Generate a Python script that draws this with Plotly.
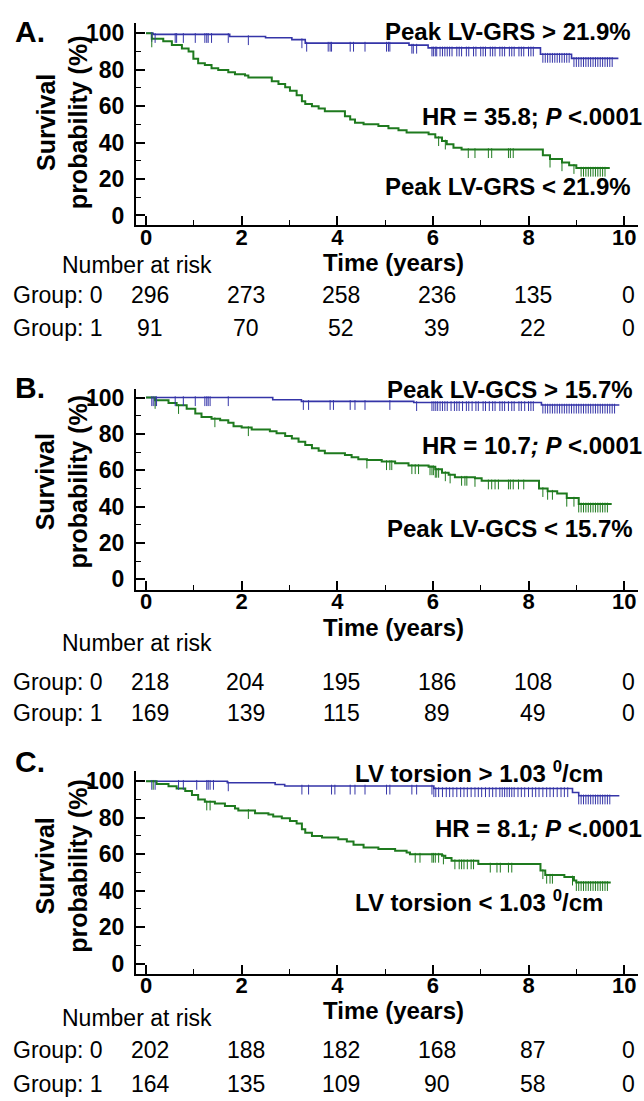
import plotly.graph_objects as go

W, H = 644, 1101
FONT = "Liberation Sans, Arial, sans-serif"
BLUE = "#3535a8"
GREEN = "#1e7a1e"

# ---------------- data ----------------
years = [0, 2, 4, 6, 8, 10]

# Panel A
A_blue_t = [0, 0.15, 1.75, 2.5, 3.05, 3.33, 5.5, 5.9, 8.25, 8.9, 9.88]
A_blue_s = [100, 99.4, 98.2, 97.5, 96.5, 94.6, 93.5, 92.0, 88.5, 86.2, 86.2]
A_green_t = [0, 0.12, 0.36, 0.54, 0.75, 0.89, 0.99, 1.09, 1.23, 1.37, 1.51, 1.72, 1.86, 2.07, 2.14,
             2.63, 2.77, 2.91, 3.01, 3.15, 3.26, 3.33, 3.47, 3.61, 3.74, 4.16, 4.27, 4.37, 4.55,
             4.86, 5.07, 5.28, 5.45, 5.91, 6.05, 6.19, 6.29, 6.43, 6.6, 8.3, 8.45, 8.7, 8.85, 9.0, 9.7]
A_green_s = [100, 97, 95.6, 93.5, 91.7, 90, 86, 83.5, 82.6, 80.8, 79.9, 78.6, 77.5, 76.8, 75.7,
             73.6, 72.1, 70.3, 68.5, 66, 62.7, 61.2, 60, 58.7, 57.2, 54.5, 52.7, 50.9, 50,
             49.1, 47.8, 46.7, 45.5, 44.6, 42.8, 40.9, 39.1, 37.2, 36.2, 33, 31, 29, 27.5, 26, 26]
A_blue_cens = [0.12, 0.19, 0.61, 0.64, 0.78, 1.03, 1.23, 1.27, 1.3, 1.37, 1.72, 2.14, 3.26, 3.36,
               3.81, 3.85, 3.88, 4.27, 4.34, 4.58, 5.03, 5.07, 5.1, 5.56, 5.59, 5.66, 5.98, 6.01,
               6.05, 6.08, 6.15, 6.2, 6.25, 6.3, 6.35, 6.4, 6.5, 6.55, 6.6, 6.7, 6.75, 6.85, 6.9,
               7.0, 7.05, 7.1, 7.2, 7.25, 7.3, 7.4, 7.45, 7.5, 7.6, 7.65, 7.7, 7.8, 7.85, 7.9, 8.0,
               8.05, 8.1, 8.3, 8.35, 8.4, 8.45, 8.5, 8.55, 8.6, 8.65, 8.7, 8.75, 8.8, 8.85, 8.95,
               9.0, 9.05, 9.1, 9.15, 9.2, 9.25, 9.3, 9.35, 9.4, 9.45, 9.5, 9.55, 9.6, 9.65, 9.7, 9.75]
A_green_cens = [0.12, 6.12, 6.26, 6.74, 6.88, 7.16, 7.23, 7.58, 7.62, 7.68, 8.45, 8.7, 8.95, 9.1,
                9.15, 9.2, 9.25, 9.3, 9.35, 9.4, 9.45, 9.5, 9.55, 9.6]
A_risk0 = [296, 273, 258, 236, 135, 0]
A_risk1 = [91, 70, 52, 39, 22, 0]

# Panel B
B_blue_t = [0, 2.65, 3.25, 5.6, 8.27, 9.9]
B_blue_s = [100, 98.8, 97.9, 97.3, 95.9, 95.9]
B_green_t = [0, 0.19, 0.47, 0.64, 0.85, 1.03, 1.16, 1.37, 1.55, 1.72, 1.83, 2.0, 2.21, 2.59, 2.73,
             2.91, 3.05, 3.19, 3.33, 3.47, 3.61, 3.74, 4.16, 4.3, 4.44, 4.62, 4.93, 5.21, 5.49, 5.91,
             6.05, 6.19, 6.33, 6.46, 6.88, 7.02, 8.22, 8.4, 8.6, 8.8, 9.05, 9.74]
B_green_s = [100, 98.5, 97, 95.7, 93.9, 91.2, 89.3, 88.4, 87.5, 86.1, 84.2, 83.5, 82.4, 81.5, 80.3,
             78.8, 77.5, 75.7, 73.9, 72.1, 70.8, 69.3, 68.4, 67.1, 66, 65.7, 64.8, 63.8, 62.6, 62,
             60.6, 58.7, 57.5, 56.2, 55.6, 54.2, 50, 48.5, 47.2, 44.7, 41.5, 41.5]
B_blue_cens = [0.12, 0.15, 0.19, 0.22, 0.61, 0.78, 1.03, 1.23, 1.27, 1.3, 1.34, 1.72, 3.29, 3.4,
               3.85, 3.92, 4.27, 4.37, 4.58, 5.1, 5.66, 5.98, 6.02, 6.06, 6.1, 6.15, 6.2, 6.25, 6.3,
               6.38, 6.45, 6.5, 6.55, 6.62, 6.7, 6.75, 6.82, 6.9, 6.95, 7.05, 7.1, 7.18, 7.25, 7.3,
               7.4, 7.45, 7.5, 7.58, 7.65, 7.7, 7.8, 7.85, 7.92, 8.0, 8.05, 8.1, 8.3, 8.35, 8.4,
               8.45, 8.5, 8.55, 8.6, 8.65, 8.7, 8.75, 8.8, 8.85, 8.9, 8.95, 9.0, 9.05, 9.1, 9.15,
               9.2, 9.25, 9.3, 9.35, 9.4, 9.45, 9.5, 9.55, 9.6, 9.65, 9.7, 9.75, 9.8]
B_green_cens = [0.19, 0.68, 1.44, 2.14, 4.62, 5.03, 5.1, 5.14, 5.56, 5.63, 5.7, 5.94, 5.98, 6.01,
                6.05, 6.08, 6.12, 6.26, 6.36, 6.6, 6.67, 6.71, 6.88, 7.16, 7.23, 7.3, 7.37, 7.58,
                7.62, 7.68, 7.79, 7.9, 8.3, 8.4, 8.5, 8.8, 8.95, 9.05, 9.1, 9.15, 9.2, 9.25, 9.3,
                9.35, 9.4, 9.45, 9.5, 9.55, 9.6, 9.65]
B_risk0 = [218, 204, 195, 186, 108, 0]
B_risk1 = [169, 139, 115, 89, 49, 0]

# Panel C
C_blue_t = [0, 1.7, 2.7, 2.9, 6.02, 8.92, 9.05, 9.9]
C_blue_s = [100, 99.2, 98.2, 97.4, 96, 93.8, 92, 92]
C_green_t = [0, 0.22, 0.47, 0.64, 0.82, 0.96, 1.09, 1.23, 1.44, 1.65, 1.86, 1.93, 2.28, 2.56, 2.66,
             2.84, 3.01, 3.15, 3.26, 3.33, 3.47, 3.68, 4.02, 4.2, 4.34, 4.55, 4.86, 5.21, 5.45,
             5.52, 6.19, 6.26, 6.39, 6.95, 8.25, 8.35, 8.75, 8.95, 9.0, 9.72]
C_green_s = [100, 98.5, 97.3, 96, 94.6, 92.4, 90, 88.7, 87.8, 86.4, 85.1, 84, 82.4, 81.8, 80.7,
             79.7, 78.2, 76.8, 73.7, 71.8, 70, 69.1, 68.2, 66.9, 65.1, 63.7, 62.8, 61.9, 60.9,
             60, 59.1, 57.9, 56.4, 54.6, 51, 48.5, 47.5, 45.5, 44.5, 44.5]
C_blue_cens = [0.12, 0.19, 0.68, 0.78, 1.06, 1.27, 1.3, 1.34, 1.41, 1.72, 3.26, 3.4, 3.88, 3.95,
               4.27, 4.37, 4.58, 5.03, 5.1, 5.56, 5.66, 5.98, 6.02, 6.06, 6.12, 6.2, 6.28, 6.35,
               6.42, 6.5, 6.58, 6.65, 6.72, 6.8, 6.88, 6.95, 7.02, 7.1, 7.18, 7.25, 7.32, 7.4,
               7.45, 7.5, 7.55, 7.6, 7.65, 7.7, 7.78, 7.85, 7.92, 8.0, 8.08, 8.15, 8.22, 8.3, 8.38,
               8.45, 8.52, 8.6, 8.68, 8.75, 8.82, 9.05, 9.1, 9.15, 9.2, 9.25, 9.3, 9.35, 9.4,
               9.45, 9.5, 9.55, 9.6, 9.65, 9.7]
C_green_cens = [0.15, 1.27, 1.34, 2.14, 5.63, 5.73, 5.98, 6.01, 6.05, 6.12, 6.22, 6.46, 6.55,
                6.6, 6.65, 6.72, 6.8, 6.85, 7.2, 7.34, 7.41, 7.58, 7.65, 8.3, 8.38, 8.45, 8.5,
                8.92, 9.0, 9.05, 9.1, 9.15, 9.2, 9.25, 9.3, 9.35, 9.4, 9.45, 9.5, 9.55, 9.6, 9.65]
C_risk0 = [202, 188, 182, 168, 87, 0]
C_risk1 = [164, 135, 109, 90, 58, 0]

# ---------------- layout helpers ----------------
def fx(p):
    return p / W

def fy(p):
    return 1 - p / H


def step_value(t_list, s_list, t):
    v = s_list[0]
    for ti, si in zip(t_list, s_list):
        if ti <= t:
            v = si
        else:
            break
    return v


panels = [
    dict(letter="A.", top=18, bottom=222, yr=[-5.45, 105.7],
         bt=A_blue_t, bs=A_blue_s, gt=A_green_t, gs=A_green_s,
         bc=A_blue_cens, gc=A_green_cens, r0=A_risk0, r1=A_risk1,
         letter_y=27,
         upper="Peak LV-GRS &gt; 21.9%", upper_y=27, upper_x=633,
         hr="HR = 35.8; <i>P</i> &lt;.0001", hr_y=112,
         lower="Peak LV-GRS &lt; 21.9%", lower_y=183, lower_x=633,
         ytitle_y=118, time_y=259, nar_y=262, g0_y=292, g1_y=325),
    dict(letter="B.", top=387, bottom=589, yr=[-5.7, 104.6],
         bt=B_blue_t, bs=B_blue_s, gt=B_green_t, gs=B_green_s,
         bc=B_blue_cens, gc=B_green_cens, r0=B_risk0, r1=B_risk1,
         letter_y=385,
         upper="Peak LV-GCS &gt; 15.7%", upper_y=387, upper_x=635,
         hr="HR = 10.7<i>; P</i> &lt;.0001", hr_y=444,
         lower="Peak LV-GCS &lt; 15.7%", lower_y=527, lower_x=635,
         ytitle_y=480, time_y=627, nar_y=643, g0_y=682, g1_y=713),
    dict(letter="C.", top=772, bottom=976, yr=[-5.7, 105.4],
         bt=C_blue_t, bs=C_blue_s, gt=C_green_t, gs=C_green_s,
         bc=C_blue_cens, gc=C_green_cens, r0=C_risk0, r1=C_risk1,
         letter_y=762,
         upper="LV torsion &gt; 1.03 <sup>0</sup>/cm", upper_y=773, upper_x=605,
         hr="HR = 8.1<i>; P</i> &lt;.0001", hr_y=830,
         lower="LV torsion &lt; 1.03 <sup>0</sup>/cm", lower_y=903, lower_x=605,
         ytitle_y=867, time_y=1013, nar_y=1020, g0_y=1053, g1_y=1087),
]

fig = go.Figure()
annotations = []
X_LEFT, X_RIGHT = 136, 638
XR = [-0.21, 10.29]

bold = lambda s: dict(family=FONT, size=s, color="black", weight="bold")
reg = lambda s: dict(family=FONT, size=s, color="black")

for i, p in enumerate(panels):
    k = "" if i == 0 else str(i + 1)
    xa, ya = "x" + k, "y" + k
    # curves
    fig.add_trace(go.Scatter(x=p["bt"], y=p["bs"], mode="lines", line=dict(color=BLUE, width=1.6, shape="hv"),
                             xaxis=xa, yaxis=ya, showlegend=False, hoverinfo="skip"))
    fig.add_trace(go.Scatter(x=p["gt"], y=p["gs"], mode="lines", line=dict(color=GREEN, width=2, shape="hv"),
                             xaxis=xa, yaxis=ya, showlegend=False, hoverinfo="skip"))
    # censor marks (hanging below the curve)
    off = 2.0
    fig.add_trace(go.Scatter(x=p["bc"], y=[step_value(p["bt"], p["bs"], t) - off for t in p["bc"]],
                             mode="markers", marker=dict(symbol="line-ns", size=7, line=dict(color=BLUE, width=1)),
                             xaxis=xa, yaxis=ya, showlegend=False, hoverinfo="skip"))
    fig.add_trace(go.Scatter(x=p["gc"], y=[step_value(p["gt"], p["gs"], t) - off for t in p["gc"]],
                             mode="markers", marker=dict(symbol="line-ns", size=7, line=dict(color=GREEN, width=1)),
                             xaxis=xa, yaxis=ya, showlegend=False, hoverinfo="skip"))

    common = dict(showline=True, linecolor="black", linewidth=2, ticks="inside", tickcolor="black",
                  tickwidth=1.5, ticklen=9, showgrid=False, zeroline=False)
    fig.layout["xaxis" + k] = dict(domain=[fx(X_LEFT), fx(X_RIGHT)], range=XR, anchor=ya,
                                   tickvals=years, tickfont=bold(22), ticklabelstandoff=-9,
                                   minor=dict(tickvals=[1, 3, 5, 7, 9], ticks="inside", ticklen=5,
                                              tickcolor="black", tickwidth=1.2),
                                   **common)
    fig.layout["yaxis" + k] = dict(domain=[fy(p["bottom"]), fy(p["top"])], range=p["yr"], anchor=xa,
                                   tickvals=[0, 20, 40, 60, 80, 100], tickfont=bold(23), ticklabelstandoff=5,
                                   minor=dict(tickvals=[10, 30, 50, 70, 90], ticks="inside", ticklen=5,
                                              tickcolor="black", tickwidth=1.2),
                                   **common)

    # panel letter
    annotations.append(dict(text=p["letter"], x=fx(13), y=fy(p["letter_y"]), xref="paper", yref="paper",
                            xanchor="left", yanchor="middle", showarrow=False, font=bold(30)))
    # y title
    annotations.append(dict(text="Survival<br>probability (%)", x=fx(62), y=fy(p["ytitle_y"]), xref="paper",
                            yref="paper", xanchor="center", yanchor="middle", textangle=-90, showarrow=False,
                            font=bold(25)))
    # curve labels
    annotations.append(dict(text=p["upper"], x=fx(p["upper_x"]), y=fy(p["upper_y"]), xref="paper", yref="paper",
                            xanchor="right", yanchor="middle", showarrow=False, font=bold(24)))
    annotations.append(dict(text=p["hr"], x=fx(644), y=fy(p["hr_y"]), xref="paper", yref="paper",
                            xanchor="right", yanchor="middle", showarrow=False, font=bold(24)))
    annotations.append(dict(text=p["lower"], x=fx(p["lower_x"]), y=fy(p["lower_y"]), xref="paper", yref="paper",
                            xanchor="right", yanchor="middle", showarrow=False, font=bold(24)))
    # x title
    annotations.append(dict(text="Time (years)", x=fx(393), y=fy(p["time_y"]), xref="paper", yref="paper",
                            xanchor="center", yanchor="middle", showarrow=False, font=bold(24)))
    # risk table
    annotations.append(dict(text="Number at risk", x=fx(60), y=fy(p["nar_y"]), xref="paper", yref="paper",
                            xanchor="left", yanchor="middle", showarrow=False, font=reg(23)))
    annotations.append(dict(text="Group: 0", x=fx(11), y=fy(p["g0_y"]), xref="paper", yref="paper",
                            xanchor="left", yanchor="middle", showarrow=False, font=reg(23)))
    annotations.append(dict(text="Group: 1", x=fx(11), y=fy(p["g1_y"]), xref="paper", yref="paper",
                            xanchor="left", yanchor="middle", showarrow=False, font=reg(23)))
    for yr, n0, n1 in zip(years, p["r0"], p["r1"]):
        annotations.append(dict(text=str(n0), x=yr, y=fy(p["g0_y"]), xref=xa, yref="paper", xshift=4,
                                xanchor="center", yanchor="middle", showarrow=False, font=reg(23)))
        annotations.append(dict(text=str(n1), x=yr, y=fy(p["g1_y"]), xref=xa, yref="paper", xshift=4,
                                xanchor="center", yanchor="middle", showarrow=False, font=reg(23)))

fig.update_layout(width=W, height=H, margin=dict(l=0, r=0, t=0, b=0), paper_bgcolor="white",
                  plot_bgcolor="white", annotations=annotations, showlegend=False)
fig.write_html("out.html")
